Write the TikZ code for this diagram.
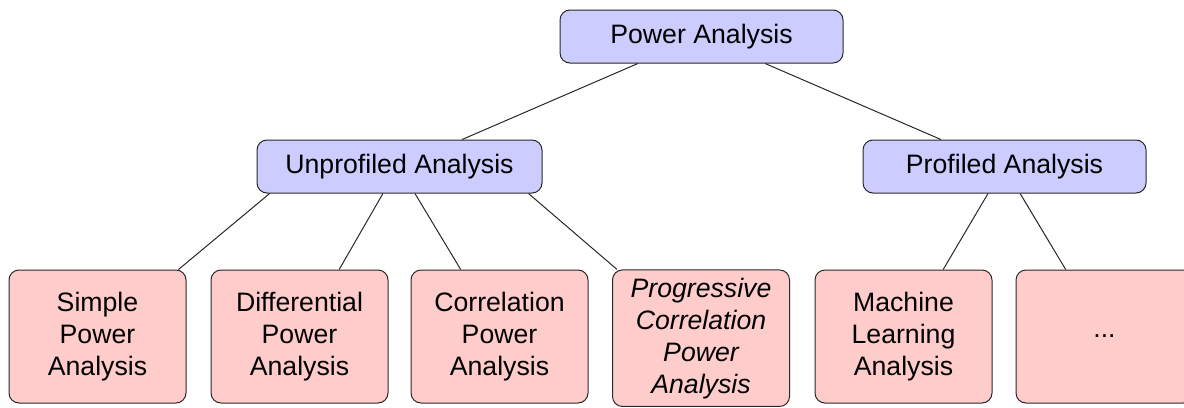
\documentclass[tikz,border=0pt]{standalone}
\usepackage{fontspec}
\setmainfont{Liberation Sans}
\usetikzlibrary{calc}
\definecolor{catblue}{RGB}{204,204,255}
\definecolor{leafpink}{RGB}{255,204,204}
\definecolor{edgegray}{RGB}{40,40,40}

\begin{document}
\begin{tikzpicture}[x=0.75pt,y=-0.75pt,
  box/.style={draw=edgegray, line width=0.75pt, rounded corners=7.5pt,
    align=center, inner sep=0pt, text=black,
    font=\fontsize{20}{24}\selectfont},
  catbox/.style={box, fill=catblue, minimum height=39.75pt},
  leafbox/.style={box, fill=leafpink, minimum width=132.75pt, minimum height=99.75pt},
  link/.style={draw=edgegray, line width=0.75pt}]
\useasboundingbox (0,0) rectangle (1184,407);

% category level
\node[catbox, minimum width=212.25pt] (pa)  at (701.5,36.5)  {Power Analysis};
\node[catbox, minimum width=213.75pt] (ua)  at (399.5,166.5) {Unprofiled Analysis};
\node[catbox, minimum width=212.25pt] (pf)  at (1004.5,166.5) {Profiled Analysis};

% leaf methods
\node[leafbox] (spa) at (97.5,336.5)  {Simple\\Power\\Analysis};
\node[leafbox] (dpa) at (299.5,336.5) {Differential\\Power\\Analysis};
\node[leafbox] (cpa) at (499.5,336.5) {Correlation\\Power\\Analysis};
\node[leafbox, minimum height=102.4pt, font=\fontsize{20}{24}\selectfont\itshape]
  (pcpa) at (701,338.2) {Progressive\\Correlation\\Power\\Analysis};
\node[leafbox] (mla) at (903.5,336.5) {Machine\\Learning\\Analysis};
\node[leafbox] (etc) at (1104.5,336.5) {...};

% connectors
\draw[link] ($(pa.south west)!0.276!(pa.south east)$) -- ($(ua.north west)!0.719!(ua.north east)$);
\draw[link] ($(pa.south west)!0.724!(pa.south east)$) -- ($(pf.north west)!0.276!(pf.north east)$);

\draw[link] ($(ua.south west)!0.046!(ua.south east)$) -- ($(spa.north west)!0.955!(spa.north east)$);
\draw[link] ($(ua.south west)!0.442!(ua.south east)$) -- ($(dpa.north west)!0.723!(dpa.north east)$);
\draw[link] ($(ua.south west)!0.554!(ua.south east)$) -- ($(cpa.north west)!0.282!(cpa.north east)$);
\draw[link] ($(ua.south west)!0.951!(ua.south east)$) -- ($(pcpa.north west)!0.028!(pcpa.north east)$);

\draw[link] ($(pf.south west)!0.442!(pf.south east)$) -- ($(mla.north west)!0.723!(mla.north east)$);
\draw[link] ($(pf.south west)!0.555!(pf.south east)$) -- ($(etc.north west)!0.282!(etc.north east)$);
\end{tikzpicture}
\end{document}
